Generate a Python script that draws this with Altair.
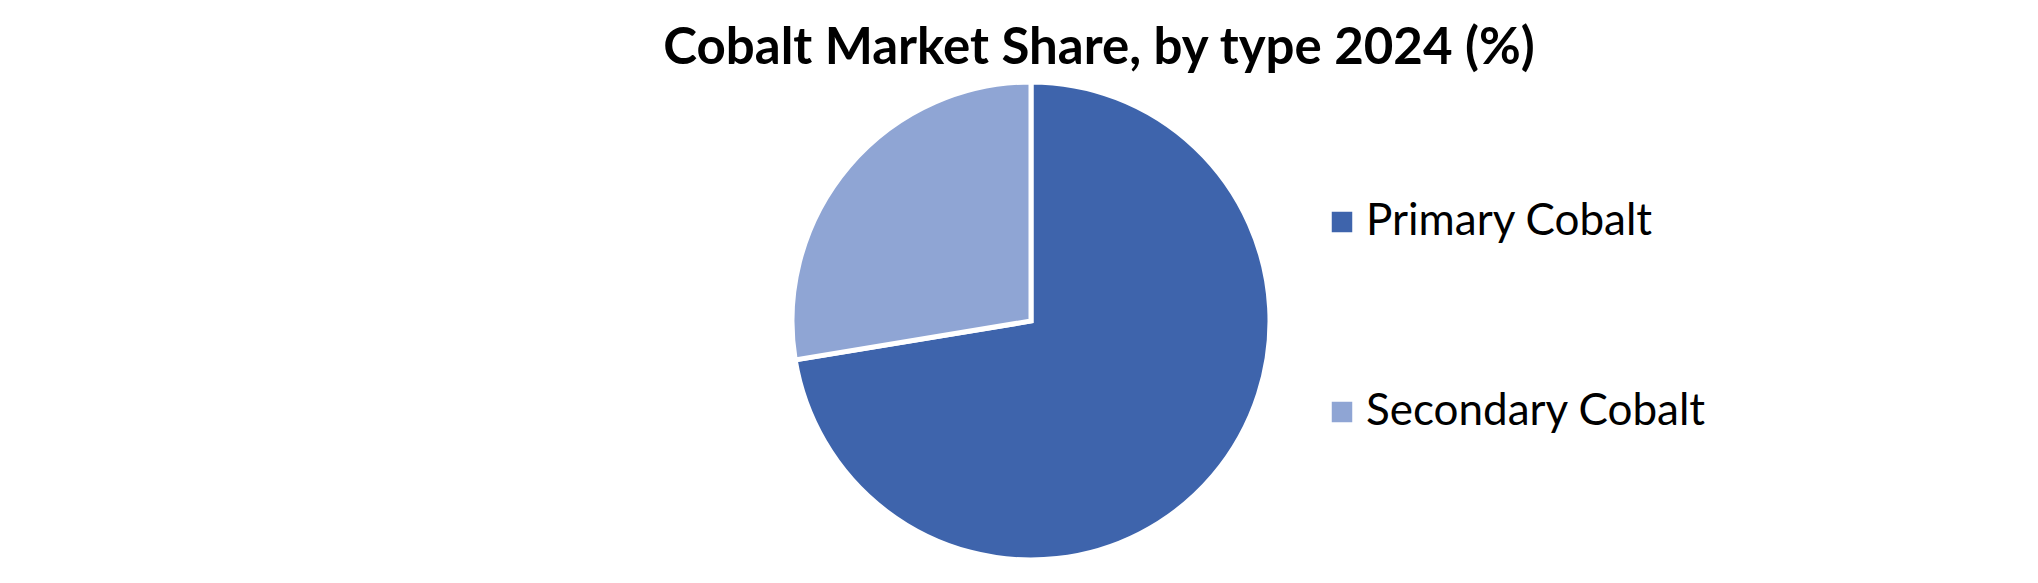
import altair as alt
import pandas as pd

categories = ["Primary Cobalt", "Secondary Cobalt"]
shares = [72.4, 27.6]
colors = ["#3E64AC", "#8FA5D4"]
title_text = ["Cobalt Market Share, by type 2024 (%)"]

df = pd.DataFrame({"type": categories, "share": shares, "order": [0, 1]})
tdf = pd.DataFrame({"t": title_text})

W, H = 2022, 567

pie = alt.Chart(df).mark_arc(stroke="white", strokeWidth=5).encode(
    theta=alt.Theta("share:Q", stack=True),
    order=alt.Order("order:Q"),
    x=alt.value(1023),
    y=alt.value(313),
    radius=alt.value(239),
    color=alt.Color(
        "type:N",
        scale=alt.Scale(domain=categories, range=colors),
        legend=alt.Legend(
            title=None,
            orient="none",
            legendX=1312,
            legendY=192,
            symbolType="square",
            symbolSize=420,
            symbolStrokeWidth=0,
            labelFont="Lato",
            labelFontSize=44,
            labelColor="#000000",
            labelOffset=2,
            rowPadding=146,
            labelLimit=700,
        ),
    ),
)

title = alt.Chart(tdf).mark_text(
    font="Lato", fontWeight="bold", fontSize=51, color="#000000",
    align="center", baseline="alphabetic",
).encode(text="t:N", x=alt.value(1091), y=alt.value(56))

chart = alt.layer(pie, title).properties(
    width=W, height=H,
    autosize=alt.AutoSizeParams(type="none"),
    padding=0,
).configure_view(stroke=None)

chart.save("out.html", embed_options={"renderer": "svg", "actions": False})
